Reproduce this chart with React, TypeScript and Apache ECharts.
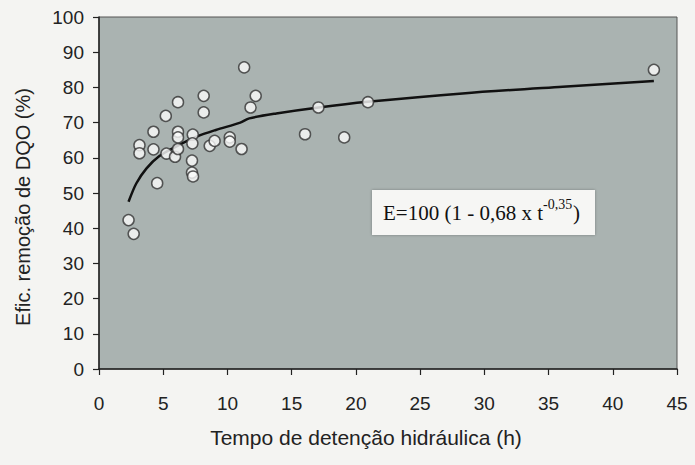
import React, { useEffect, useRef } from "react";
import * as echarts from "echarts";

// Observed points: detention time (h), COD removal efficiency (%)
const obsTime = [
  2.3, 2.7, 3.15, 3.15, 4.24, 4.24, 4.53, 5.2, 5.25, 5.92, 6.15, 6.15, 6.15, 6.15,
  7.3, 7.27, 7.24, 7.24, 7.32, 8.15, 8.15, 8.62, 9.0, 10.18, 10.18, 11.1, 11.3,
  12.2, 11.8, 16.04, 17.08, 19.09, 20.94, 43.2,
];
const obsEff = [
  42.3, 38.4, 63.6, 61.3, 67.4, 62.4, 52.8, 71.9, 61.2, 60.3, 75.8, 67.4, 65.8, 62.5,
  66.6, 64.1, 59.2, 55.8, 54.7, 77.6, 72.9, 63.4, 64.8, 65.8, 64.6, 62.5, 85.7,
  77.6, 74.3, 66.7, 74.3, 65.8, 75.8, 85.0,
];

// Fitted curve
const fitTime = [2.3, 2.9, 3.7, 4.7, 6.0, 7.6, 9.1, 11.0, 11.7, 13.8, 17.1, 20.9, 28.3, 36.1, 43.2];
const fitEff = [47.5, 52.7, 57.0, 60.5, 63.2, 66.0, 67.9, 70.0, 71.2, 72.6, 74.3, 75.9, 78.3, 80.2, 81.8];

const xTicks = { min: 0, max: 45, interval: 5 };
const yTicks = { min: 0, max: 100, interval: 10 };

const xName = "Tempo de detenção hidráulica (h)";
const yName = "Efic. remoção de DQO (%)";
const equationMain = "E=100 (1 - 0,68 x t";
const equationExp = "-0,35";
const equationEnd = ")";

export default function App() {
  const ref = useRef<HTMLDivElement>(null);
  useEffect(() => {
    document.body.style.margin = "0";
    const chart = echarts.init(ref.current!, undefined, { renderer: "svg" });
    const font = "Liberation Sans, Arial, sans-serif";
    const serif = "Liberation Serif, Times New Roman, serif";
    chart.setOption({
      animation: false,
      backgroundColor: "#f4f4f2",
      grid: {
        left: 99,
        top: 17,
        right: 18,
        bottom: 96,
        show: true,
        backgroundColor: "#aab3b1",
        borderColor: "#555",
        borderWidth: 1,
      },
      xAxis: {
        type: "value",
        min: xTicks.min,
        max: xTicks.max,
        interval: xTicks.interval,
        name: xName,
        nameLocation: "middle",
        nameGap: 58,
        nameTextStyle: { fontSize: 21, color: "#222", fontFamily: font, padding: [0, 44, 0, 0] },
        axisLine: { show: true, onZero: false, lineStyle: { color: "#222", width: 1.5 } },
        axisTick: { show: true, length: 6, lineStyle: { color: "#222", width: 1.2 } },
        axisLabel: { fontSize: 19, color: "#222", fontFamily: font, margin: 25 },
        splitLine: { show: false },
      },
      yAxis: {
        type: "value",
        min: yTicks.min,
        max: yTicks.max,
        interval: yTicks.interval,
        name: yName,
        nameLocation: "middle",
        nameGap: 66,
        nameRotate: 90,
        nameTextStyle: { fontSize: 20, color: "#222", fontFamily: font, padding: [0, 28, 0, 0] },
        axisLine: { show: true, onZero: false, lineStyle: { color: "#222", width: 1.5 } },
        axisTick: { show: true, length: 6, lineStyle: { color: "#222", width: 1.2 } },
        axisLabel: { fontSize: 19, color: "#222", fontFamily: font, margin: 15 },
        splitLine: { show: false },
      },
      series: [
        {
          type: "line",
          data: fitTime.map((t, i) => [t, fitEff[i]]),
          showSymbol: false,
          smooth: 0.3,
          lineStyle: { color: "#111", width: 2.5 },
          z: 2,
        },
        {
          type: "scatter",
          data: obsTime.map((t, i) => [t, obsEff[i]]),
          symbol: "circle",
          symbolSize: 11,
          itemStyle: { color: "#fbfbfb", borderColor: "#333", borderWidth: 1.5 },
          z: 3,
        },
      ],
      graphic: [
        {
          type: "group",
          left: 372,
          top: 190,
          children: [
            {
              type: "rect",
              shape: { x: 0, y: 0, width: 223, height: 45 },
              style: { fill: "#f6f6f4", shadowBlur: 3, shadowColor: "rgba(0,0,0,0.3)" },
            },
            {
              type: "text",
              x: 11,
              y: 23,
              style: {
                text: equationMain,
                fontSize: 21,
                fontFamily: serif,
                fill: "#111",
                verticalAlign: "middle",
              },
            },
            {
              type: "text",
              x: 171,
              y: 14,
              style: {
                text: equationExp,
                fontSize: 14,
                fontFamily: serif,
                fill: "#111",
                verticalAlign: "middle",
              },
            },
            {
              type: "text",
              x: 201,
              y: 23,
              style: {
                text: equationEnd,
                fontSize: 21,
                fontFamily: serif,
                fill: "#111",
                verticalAlign: "middle",
              },
            },
          ],
        },
      ],
    });
    return () => chart.dispose();
  }, []);
  return <div ref={ref} style={{ width: 695, height: 465 }} />;
}
